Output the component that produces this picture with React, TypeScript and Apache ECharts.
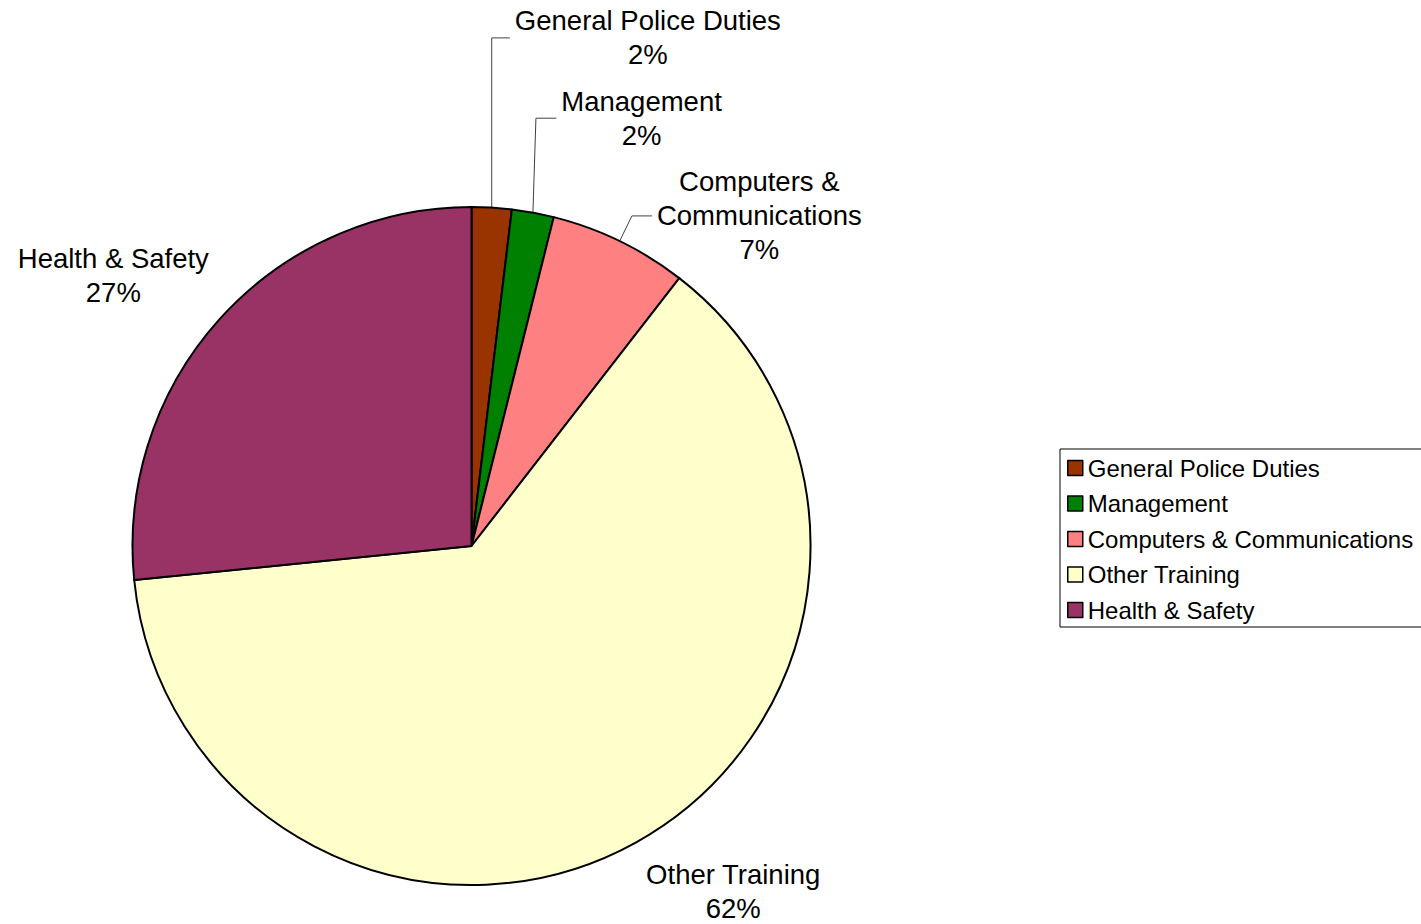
import { useEffect, useRef } from "react";
import * as echarts from "echarts";

// Data
const categories = [
  "General Police Duties",
  "Management",
  "Computers & Communications",
  "Other Training",
  "Health & Safety",
];
const labelLines = [
  ["General Police Duties"],
  ["Management"],
  ["Computers &", "Communications"],
  ["Other Training"],
  ["Health & Safety"],
];
const values = [1.9, 2.0, 6.6, 62.9, 26.6];
const shownPercents = [2, 2, 7, 62, 27];
const colors = ["#993300", "#008000", "#FF8080", "#FFFFCC", "#993366"];

// Label placement (leader line lengths / distances), styling only
const lineLength = [170, 96, 28, 56, 65];
const lineLength2 = [8, 6, 20, 0, 0];
const lineVisible = [true, true, true, false, false];
const labelDistance = [5, 5, 5, -17, -37];
// leader lines drawn nearly vertical (x shift of the bend from the slice edge)
const verticalLeaderShift: (number | null)[] = [0, 3, null, null, null];

const FONT = "'Liberation Sans', Arial, sans-serif";

export default function App() {
  const ref = useRef<HTMLDivElement>(null);

  useEffect(() => {
    document.body.style.margin = "0";
    if (!ref.current) return;
    const chart = echarts.init(ref.current, null, { renderer: "svg" });

    const data = categories.map((name, i) => ({
      name,
      value: values[i],
      itemStyle: { color: colors[i] },
      label: { distanceToLabelLine: labelDistance[i] },
      labelLine: {
        show: lineVisible[i],
        length: lineLength[i],
        length2: lineLength2[i],
      },
    }));

    chart.setOption({
      animation: false,
      backgroundColor: "#ffffff",
      legend: {
        orient: "vertical",
        left: 1060,
        top: 449,
        padding: [7, 12, 5, 7],
        borderColor: "#000",
        borderWidth: 1,
        itemWidth: 15,
        itemHeight: 15,
        itemGap: 11.5,
        icon: "rect",
        selectedMode: false,
        itemStyle: { borderColor: "#000", borderWidth: 1.5 },
        textStyle: {
          fontFamily: FONT,
          fontSize: 24,
          lineHeight: 24,
          color: "#000",
        },
        data: categories,
      },
      series: [
        {
          type: "pie",
          center: [471.5, 546],
          radius: 339,
          startAngle: 90,
          clockwise: true,
          avoidLabelOverlap: false,
          silent: true,
          itemStyle: { borderColor: "#000", borderWidth: 2 },
          label: {
            show: true,
            position: "outside",
            alignTo: "none",
            color: "#000",
            fontFamily: FONT,
            fontSize: 27.5,
            formatter: (p: any) => {
              const i = p.dataIndex;
              const lines = labelLines[i].map((l) => `{t|${l}}`);
              lines.push(`{t|${shownPercents[i]}%}`);
              return lines.join("\n");
            },
            rich: {
              t: {
                align: "center",
                fontFamily: FONT,
                fontSize: 27.5,
                lineHeight: 34,
                color: "#000",
              },
            },
          },
          labelLine: {
            lineStyle: { color: "#404040", width: 1 },
            minTurnAngle: 0,
            maxSurfaceAngle: 180,
          },
          labelLayout: (params: any) => {
            const shift = verticalLeaderShift[params.dataIndex];
            const pts = params.labelLinePoints;
            if (shift == null || !pts || pts.length < 3) return {};
            return {
              labelLinePoints: [
                [pts[0][0], pts[0][1]],
                [pts[0][0] + shift, pts[1][1]],
                [pts[2][0], pts[2][1]],
              ],
            };
          },
          data,
        },
      ],
    });

    return () => chart.dispose();
  }, []);

  return <div ref={ref} style={{ width: 1421, height: 924 }} />;
}
